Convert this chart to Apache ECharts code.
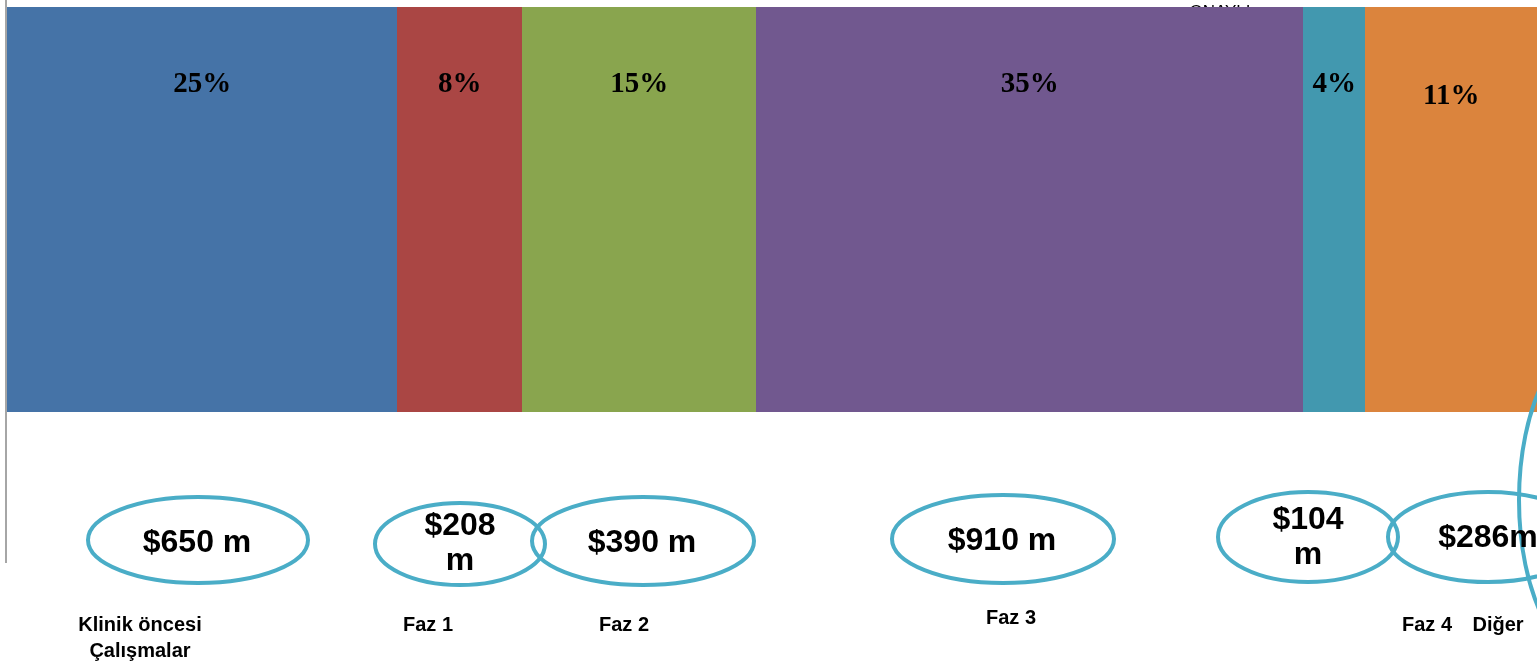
<!DOCTYPE html>
<html>
<head>
<meta charset="utf-8">
<script src="https://cdn.jsdelivr.net/npm/echarts@6/dist/echarts.min.js"></script>
<style>
  html, body { margin: 0; padding: 0; background: #fff; }
  #main { width: 1537px; height: 667px; }
</style>
</head>
<body>
<div id="main"></div>
<script>
// pay ve kategori verisi
var categories = ['Klinik öncesi\nÇalışmalar', 'Faz 1', 'Faz 2', 'Faz 3', 'Faz 4', 'Diğer'];
var shares = [25, 8, 15, 35, 4, 11];
var spend = ['$650 m', '$208\nm', '$390 m', '$910 m', '$104\nm', '$286m'];
var colors = ['#4573a7', '#aa4644', '#89a54e', '#71588f', '#4298af', '#db843d'];

var chart = echarts.init(document.getElementById('main'));

// marimekko: bar widths from the shares
var rows = [];
var acc = 0;
for (var i = 0; i < shares.length; i++) {
    rows.push([acc, acc + shares[i], shares[i], i]);
    acc += shares[i];
}

var ring = '#4aadc7';
var sans = '"Liberation Sans", Arial, sans-serif';
function oval(cx, cy, rx, ry) {
    return { type: 'ellipse', z: 10, shape: { cx: cx, cy: cy, rx: rx, ry: ry },
             style: { fill: 'none', stroke: ring, lineWidth: 4 } };
}
function txt(x, y, s, size, weight, lh, z) {
    return { type: 'text', x: x, y: y, z: z === undefined ? 11 : z,
             style: { text: s, fontFamily: sans, fontSize: size, fontWeight: weight, fill: '#000',
                      align: 'center', verticalAlign: 'middle', lineHeight: lh || size } };
}

var option = {
    animation: false,
    grid: { left: 7, right: 0, top: 7, bottom: 255 },
    xAxis: { type: 'value', min: 0, max: 98, show: false },
    yAxis: { type: 'value', min: 0, max: 1, show: false },
    series: [{
        type: 'custom',
        z: 5,
        data: rows,
        renderItem: function (params, api) {
            var a = api.coord([api.value(0), 1]);
            var b = api.coord([api.value(1), 0]);
            var k = api.value(3);
            var x0 = Math.round(a[0]), x1 = Math.round(b[0]);
            return {
                type: 'rect',
                shape: { x: x0, y: a[1], width: x1 - x0 + 0.5, height: b[1] - a[1] },
                style: { fill: colors[k] },
                textContent: {
                    style: { text: api.value(2) + '%', fontFamily: '"Liberation Serif", Georgia, serif',
                             fontSize: 29, fontWeight: 'bold',
                             fill: '#000', align: 'center', verticalAlign: 'middle' }
                },
                textConfig: { position: ['50%', k === 5 ? 90 : 78] }
            };
        }
    }],
    graphic: [
        { type: 'line', z: 6, shape: { x1: 6, y1: 0, x2: 6, y2: 563 }, style: { stroke: '#a6a6a6', lineWidth: 2 } },
        txt(1220, 12, 'ONAYLI', 17, 'normal', 17, -5),
        oval(198, 540, 110, 43),
        oval(460, 544, 85, 41),
        oval(643, 541, 111, 44),
        oval(1003, 539, 111, 44),
        oval(1308, 537, 90, 45),
        oval(1488, 537, 100, 45),
        oval(1600, 500, 81, 166),
        txt(197, 543, spend[0], 32, 'bold'),
        txt(460, 544, spend[1], 32, 'bold', 35),
        txt(642, 543, spend[2], 32, 'bold'),
        txt(1002, 541, spend[3], 32, 'bold'),
        txt(1308, 538, spend[4], 32, 'bold', 35),
        txt(1488, 538, spend[5], 32, 'bold'),
        txt(140, 638, categories[0], 20, 'bold', 26),
        txt(428, 625, categories[1], 20, 'bold'),
        txt(624, 625, categories[2], 20, 'bold'),
        txt(1011, 618, categories[3], 20, 'bold'),
        txt(1427, 625, categories[4], 20, 'bold'),
        txt(1498, 625, categories[5], 20, 'bold')
    ]
};

chart.setOption(option);
</script>
</body>
</html>
